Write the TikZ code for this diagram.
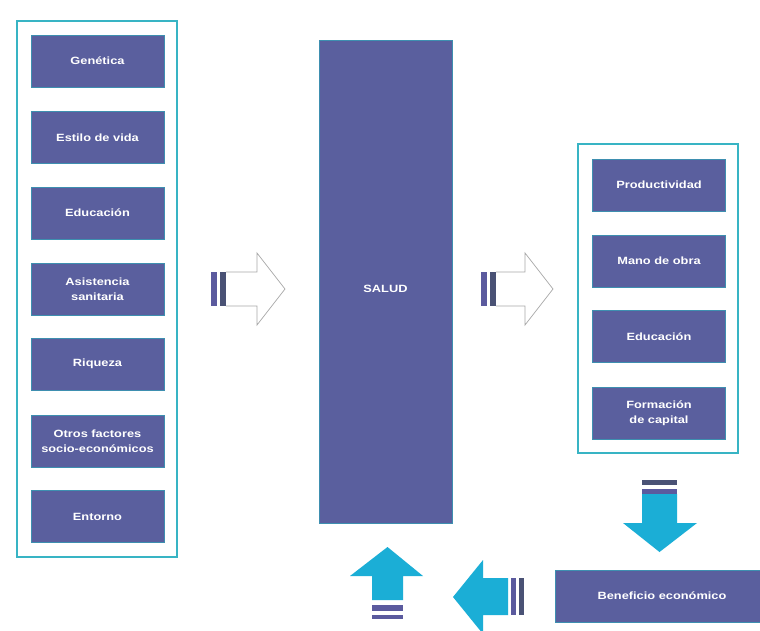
\documentclass[tikz,border=0pt]{standalone}
\usepackage{fontspec}
\newfontfamily\lblfont[FakeStretch=1.22]{Liberation Sans}
\definecolor{boxfill}{HTML}{5A5F9E}
\definecolor{boxedge}{HTML}{3E8FB0}
\definecolor{frame}{HTML}{38B4C4}
\definecolor{arrcyan}{HTML}{1BAED6}
\definecolor{barA}{HTML}{5B5A9E}
\definecolor{barB}{HTML}{4A5275}
\definecolor{hollow}{HTML}{A8A8A8}
\tikzset{
  x=1pt,y=-1pt,
  fbox/.style={draw=boxedge,line width=0.8pt,fill=boxfill,text=white,
    font=\lblfont\bfseries\fontsize{10.5}{15}\selectfont,align=center,
    inner sep=0pt,minimum width=133pt,minimum height=52pt},
  outerframe/.style={draw=frame,line width=1.6pt,fill=white},
  lbltext/.style={text=white,font=\lblfont\bfseries\fontsize{10.5}{15}\selectfont,inner sep=0pt},
  cyanarrow/.style={fill=arrcyan,draw=none},
  hollowarrow/.style={draw=hollow,line width=0.7pt,fill=white},
  bara/.style={fill=barA,draw=none},
  barb/.style={fill=barB,draw=none},
}
\begin{document}
\begin{tikzpicture}
\useasboundingbox (0,0) rectangle (760,630);
\clip (0,0) rectangle (760,630);
\fill[white] (0,0) rectangle (760,630);

% left frame
\draw[outerframe] (17,21) rectangle (177,557);
\node[fbox] (gen) at (97.5,61) {Genética};
\node[fbox] (est) at (97.5,137.5) {Estilo de vida};
\node[fbox] (edu) at (97.5,213) {Educación};
\node[fbox] (asi) at (97.5,289) {Asistencia\\sanitaria};
\node[fbox] (riq) at (97.5,364) {Riqueza};
\node[fbox] (otr) at (97.5,441) {Otros factores\\socio-económicos};
\node[fbox] (ent) at (97.5,516.5) {Entorno};

% SALUD
\node[fbox,minimum width=133pt,minimum height=483pt] (salud) at (385.5,281.5) {};
\node[lbltext] (saludlbl) at ([yshift=-7.5pt]salud.center) {SALUD};

% right frame
\draw[outerframe] (578,144) rectangle (738,453);
\node[fbox] (pro) at (659,185) {Productividad};
\node[fbox] (man) at (659,261) {Mano de obra};
\node[fbox] (edu2) at (659,336.5) {Educación};
\node[fbox] (for) at (659,413) {Formación\\de capital};

% beneficio
\node[fbox,minimum width=214pt,minimum height=52pt] (ben) at (662,596) {Beneficio económico};

% hollow arrow 1
\fill[bara] (211,272) rectangle (217,306);
\fill[barb] (220,272) rectangle (226,306);
\draw[hollowarrow] (226,272) -- (257,272) -- (257,253) -- (285,289) -- (257,325) -- (257,306) -- (226,306);

% hollow arrow 2
\fill[bara] (481,272) rectangle (487,306);
\fill[barb] (490,272) rectangle (496,306);
\draw[hollowarrow] (496,272) -- (525,272) -- (525,253) -- (553,289) -- (525,325) -- (525,306) -- (496,306);

% down arrow
\fill[barb] (642,480) rectangle (677,485);
\fill[bara] (642,489) rectangle (677,494);
\fill[cyanarrow] (642,494) -- (677,494) -- (677,523) -- (697,523) -- (659.5,552) -- (623,523) -- (642,523) -- cycle;

% left arrow
\fill[bara] (511,578) rectangle (516,615);
\fill[barb] (519,578) rectangle (524,615);
\fill[cyanarrow] (508,578) -- (508,615) -- (483,615) -- (483,634) -- (453,597) -- (483,560) -- (483,578) -- cycle;

% up arrow
\fill[bara] (372,605) rectangle (403,611);
\fill[bara] (372,615) rectangle (403,619);
\fill[cyanarrow] (372,600) -- (403,600) -- (403,576) -- (423,576) -- (387.5,547) -- (350,576) -- (372,576) -- cycle;
\end{tikzpicture}
\end{document}
